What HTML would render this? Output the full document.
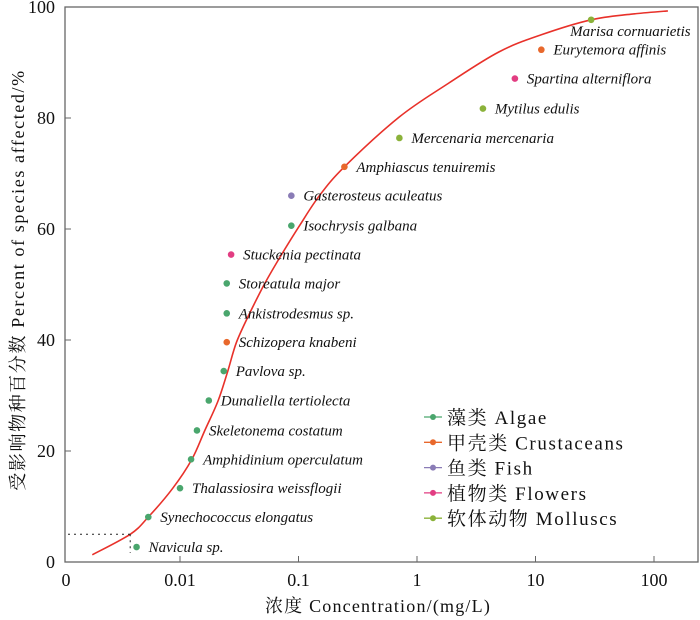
<!DOCTYPE html>
<html><head><meta charset="utf-8"><style>
body{margin:0;background:#fff;}
svg{display:block;font-family:"Liberation Serif","Noto Serif CJK SC",serif;}
.lab{font-style:italic;font-size:15px;fill:#111;}
.tk{font-size:18px;fill:#111;}
</style></head><body>
<svg id="chart" width="700" height="620"></svg>
<script>
const names=["Navicula sp.","Synechococcus elongatus","Thalassiosira weissflogii","Amphidinium operculatum","Skeletonema costatum","Dunaliella tertiolecta","Pavlova sp.","Schizopera knabeni","Ankistrodesmus sp.","Storeatula major","Stuckenia pectinata","Isochrysis galbana","Gasterosteus aculeatus","Amphiascus tenuiremis","Mercenaria mercenaria","Mytilus edulis","Spartina alterniflora","Eurytemora affinis","Marisa cornuarietis"];
const concs=[0.0043,0.0054,0.01,0.0124,0.0139,0.0175,0.0234,0.0248,0.0248,0.0248,0.027,0.087,0.087,0.244,0.71,3.6,6.7,11.2,29.5];
const percents=[2.7,8.1,13.3,18.5,23.7,29.1,34.4,39.6,44.8,50.2,55.4,60.6,66.0,71.2,76.4,81.7,87.1,92.3,97.7];
const groups=[0,0,0,0,0,0,0,1,0,0,3,0,2,1,4,4,3,1,4];
const curveX=[0.00182,0.0038,0.0054,0.0087,0.0126,0.0162,0.021,0.0253,0.030,0.0387,0.052,0.072,0.102,0.15,0.244,0.71,1.86,4.9,11.2,29.5,64,131];
const curveY=[1.3,5.0,8.1,13.3,18.5,23.7,29.1,34.4,39.6,44.8,50.2,55.4,60.6,66,71.2,80.2,86.3,91.9,95,97.7,98.7,99.3];
const xTicks=[0.01,0.1,1,10,100];
const xTickLabels=["0.01","0.1","1","10","100"];
const yTicks=[0,20,40,60,80,100];
const groupNames=["藻类 Algae","甲壳类 Crustaceans","鱼类 Fish","植物类 Flowers","软体动物 Molluscs"];
const groupColors=["#4aa66d","#e8682c","#8a7cb6","#e23d82","#8bb23a"];

const NS="http://www.w3.org/2000/svg";
const svg=document.getElementById("chart");
const L=65,R=698,T=7,B=562;
const X=v=>180+(Math.log10(v)+2)*118.5;
const Y=v=>B-v*(B-T)/100;
function mk(tag,at,parent){const e=document.createElementNS(NS,tag);for(const k in at)e.setAttribute(k,at[k]);(parent||svg).appendChild(e);return e;}

let frame=mk("rect",{x:L,y:T,width:R-L,height:B-T,fill:"none",stroke:"#666","stroke-width":1.3});



xTicks.forEach((v,i)=>{
  let t=mk("line",{x1:X(v),x2:X(v),y1:B,y2:B-6,stroke:"#666"});
  
  
  let tx=mk("text",{x:X(v),y:586,"text-anchor":"middle",class:"tk"});tx.textContent=xTickLabels[i];
  
  
});
let z=mk("text",{x:66,y:586,"text-anchor":"middle",class:"tk"});z.textContent="0";


yTicks.forEach(v=>{
  if(v>0&&v<100){let t=mk("line",{x1:L,x2:L+6,y1:Y(v),y2:Y(v),stroke:"#666"});
  
  }
  let tx=mk("text",{x:55,y:Y(v)+6,"text-anchor":"end",class:"tk"});tx.textContent=v;
  
  
});

const P=curveX.map((v,i)=>[X(v),Y(curveY[i])]);
let d="M"+P[0][0].toFixed(1)+","+P[0][1].toFixed(1);
for(let i=0;i<P.length-1;i++){
  const p0=P[Math.max(0,i-1)],p1=P[i],p2=P[i+1],p3=P[Math.min(P.length-1,i+2)];
  const c1=[p1[0]+(p2[0]-p0[0])/6,p1[1]+(p2[1]-p0[1])/6];
  const c2=[p2[0]-(p3[0]-p1[0])/6,p2[1]-(p3[1]-p1[1])/6];
  d+=" C"+c1.map(n=>n.toFixed(1)).join(",")+" "+c2.map(n=>n.toFixed(1)).join(",")+" "+p2.map(n=>n.toFixed(1)).join(",");
}
let cur=mk("path",{d:d,fill:"none",stroke:"#e8312a","stroke-width":1.6,"stroke-linejoin":"round"});



let h=mk("line",{x1:68,x2:X(0.0038),y1:Y(5),y2:Y(5),stroke:"#222","stroke-dasharray":"2,4"});


let vv=mk("line",{x1:X(0.0038),x2:X(0.0038),y1:Y(5),y2:553,stroke:"#222","stroke-dasharray":"2,4"});



names.forEach((n,i)=>{
  const px=X(concs[i]),py=Y(percents[i]);
  let c=mk("circle",{cx:px,cy:py,r:3.3,fill:groupColors[groups[i]]});
  
  
  let lx=px+12,ly=py+5;
  if(i===names.length-1){lx=px-21;ly=py+16;}
  let t=mk("text",{x:lx,y:ly,class:"lab"});t.textContent=n;
  
  
});

groupNames.forEach((g,i)=>{
  const y=417+i*25.3;
  let ln=mk("line",{x1:424,x2:442,y1:y,y2:y,stroke:groupColors[i],"stroke-width":1.3});
  
  
  let c=mk("circle",{cx:433,cy:y,r:3,fill:groupColors[i]});
  
  
  let t=mk("text",{x:447,y:y+7,"font-size":"19",fill:"#111","letter-spacing":"1.6"});t.textContent=g;
  
  
});

let xt=mk("text",{x:378,y:612,"text-anchor":"middle","font-size":"18",fill:"#111","letter-spacing":"1.2"});
xt.textContent="浓度 Concentration/(mg/L)";


let yt=mk("text",{x:0,y:0,"text-anchor":"middle","font-size":"18",fill:"#111","letter-spacing":"1.6",transform:"translate(24,280) rotate(-90)"});
yt.textContent="受影响物种百分数 Percent of species affected/%";


</script>
</body></html>
